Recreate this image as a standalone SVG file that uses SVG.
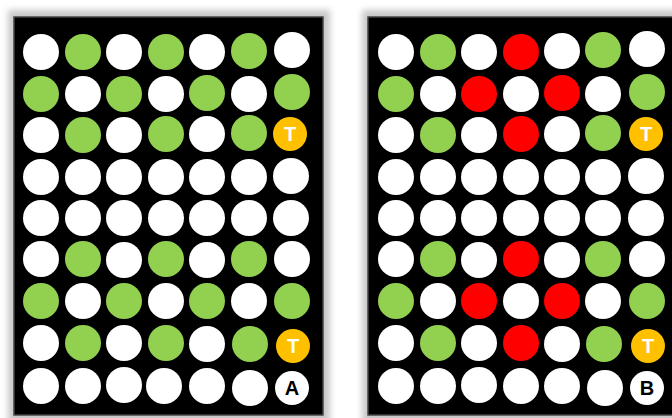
<svg xmlns="http://www.w3.org/2000/svg" width="672" height="418" viewBox="0 0 672 418">
<defs>
<filter id="sh" x="-10%" y="-10%" width="120%" height="120%"><feGaussianBlur stdDeviation="3"/></filter>
</defs>
<style>
.w{fill:#ffffff}.g{fill:#92D050}.r{fill:#FF0000}.t{fill:#FFC000}
.lt{font-family:"Liberation Sans",Arial,sans-serif;font-weight:bold;font-size:20px;text-anchor:middle}
.panel{fill:#000;stroke:#444;stroke-width:1.5}
</style>
<rect width="672" height="418" fill="#fff"/>
<rect x="8" y="10" width="322" height="420" fill="#c8c8c8" filter="url(#sh)"/>
<rect x="362" y="10" width="320" height="420" fill="#c8c8c8" filter="url(#sh)"/>
<g id="panelA">
<rect class="panel" x="14" y="17" width="309" height="398"/>
<g id="A-r1"><circle class="w" cx="41" cy="52" r="18"/><circle class="g" cx="83" cy="52" r="18"/><circle class="w" cx="124" cy="52" r="18"/><circle class="g" cx="166" cy="52" r="18"/><circle class="w" cx="207" cy="52" r="18"/><circle class="g" cx="249" cy="51" r="18"/><circle class="w" cx="292" cy="50" r="18"/></g>
<g id="A-r2"><circle class="g" cx="41" cy="94" r="18"/><circle class="w" cx="83" cy="94" r="18"/><circle class="g" cx="124" cy="94" r="18"/><circle class="w" cx="166" cy="94" r="18"/><circle class="g" cx="207" cy="93" r="18"/><circle class="w" cx="249" cy="94" r="18"/><circle class="g" cx="292" cy="92" r="18"/></g>
<g id="A-r3"><circle class="w" cx="41" cy="135" r="18"/><circle class="g" cx="83" cy="135" r="18"/><circle class="w" cx="124" cy="135" r="18"/><circle class="g" cx="166" cy="134" r="18"/><circle class="w" cx="207" cy="134" r="18"/><circle class="g" cx="249" cy="133" r="18"/><circle class="t" cx="290" cy="134" r="17"/><text class="lt" x="290" y="141" fill="#fff">T</text></g>
<g id="A-r4"><circle class="w" cx="41" cy="177" r="18"/><circle class="w" cx="83" cy="177" r="18"/><circle class="w" cx="124" cy="177" r="18"/><circle class="w" cx="166" cy="177" r="18"/><circle class="w" cx="207" cy="177" r="18"/><circle class="w" cx="249" cy="177" r="18"/><circle class="w" cx="291" cy="176" r="18"/></g>
<g id="A-r5"><circle class="w" cx="41" cy="218" r="18"/><circle class="w" cx="83" cy="218" r="18"/><circle class="w" cx="124" cy="218" r="18"/><circle class="w" cx="166" cy="218" r="18"/><circle class="w" cx="207" cy="218" r="18"/><circle class="w" cx="249" cy="218" r="18"/><circle class="w" cx="291" cy="218" r="18"/></g>
<g id="A-r6"><circle class="w" cx="41" cy="259" r="18"/><circle class="g" cx="83" cy="259" r="18"/><circle class="w" cx="124" cy="260" r="18"/><circle class="g" cx="166" cy="259" r="18"/><circle class="w" cx="207" cy="260" r="18"/><circle class="g" cx="249" cy="259" r="18"/><circle class="w" cx="292" cy="259" r="18"/></g>
<g id="A-r7"><circle class="g" cx="41" cy="301" r="18"/><circle class="w" cx="83" cy="301" r="18"/><circle class="g" cx="124" cy="301" r="18"/><circle class="w" cx="166" cy="301" r="18"/><circle class="g" cx="207" cy="301" r="18"/><circle class="w" cx="249" cy="301" r="18"/><circle class="g" cx="292" cy="301" r="18"/></g>
<g id="A-r8"><circle class="w" cx="41" cy="343" r="18"/><circle class="g" cx="83" cy="343" r="18"/><circle class="w" cx="124" cy="343" r="18"/><circle class="g" cx="166" cy="343" r="18"/><circle class="w" cx="207" cy="344" r="18"/><circle class="g" cx="250" cy="344" r="18"/><circle class="t" cx="293" cy="346" r="17"/><text class="lt" x="293" y="353" fill="#fff">T</text></g>
<g id="A-r9"><circle class="w" cx="41" cy="386" r="18"/><circle class="w" cx="83" cy="386" r="18"/><circle class="w" cx="124" cy="385" r="18"/><circle class="w" cx="164" cy="386" r="18"/><circle class="w" cx="207" cy="386" r="18"/><circle class="w" cx="250" cy="388" r="18"/><circle class="w" cx="292" cy="388" r="17"/><text class="lt" x="292" y="395" fill="#000">A</text></g>
</g>
<g id="panelB">
<rect class="panel" x="368" y="17" width="310" height="398"/>
<g id="B-r1"><circle class="w" cx="396" cy="52" r="18"/><circle class="g" cx="438" cy="52" r="18"/><circle class="w" cx="479" cy="52" r="18"/><circle class="r" cx="521" cy="52" r="18"/><circle class="w" cx="562" cy="51" r="18"/><circle class="g" cx="603" cy="50" r="18"/><circle class="w" cx="647" cy="49" r="18"/></g>
<g id="B-r2"><circle class="g" cx="396" cy="94" r="18"/><circle class="w" cx="438" cy="94" r="18"/><circle class="r" cx="479" cy="94" r="18"/><circle class="w" cx="521" cy="94" r="18"/><circle class="r" cx="562" cy="93" r="18"/><circle class="w" cx="603" cy="94" r="18"/><circle class="g" cx="647" cy="92" r="18"/></g>
<g id="B-r3"><circle class="w" cx="396" cy="135" r="18"/><circle class="g" cx="438" cy="135" r="18"/><circle class="w" cx="479" cy="135" r="18"/><circle class="r" cx="521" cy="134" r="18"/><circle class="w" cx="562" cy="134" r="18"/><circle class="g" cx="603" cy="133" r="18"/><circle class="t" cx="646" cy="134" r="17"/><text class="lt" x="646" y="141" fill="#fff">T</text></g>
<g id="B-r4"><circle class="w" cx="396" cy="177" r="18"/><circle class="w" cx="438" cy="177" r="18"/><circle class="w" cx="479" cy="177" r="18"/><circle class="w" cx="521" cy="177" r="18"/><circle class="w" cx="562" cy="177" r="18"/><circle class="w" cx="603" cy="177" r="18"/><circle class="w" cx="646" cy="176" r="18"/></g>
<g id="B-r5"><circle class="w" cx="396" cy="218" r="18"/><circle class="w" cx="438" cy="218" r="18"/><circle class="w" cx="479" cy="218" r="18"/><circle class="w" cx="521" cy="218" r="18"/><circle class="w" cx="562" cy="218" r="18"/><circle class="w" cx="603" cy="218" r="18"/><circle class="w" cx="646" cy="218" r="18"/></g>
<g id="B-r6"><circle class="w" cx="396" cy="259" r="18"/><circle class="g" cx="438" cy="259" r="18"/><circle class="w" cx="479" cy="260" r="18"/><circle class="r" cx="521" cy="259" r="18"/><circle class="w" cx="562" cy="260" r="18"/><circle class="g" cx="603" cy="259" r="18"/><circle class="w" cx="647" cy="259" r="18"/></g>
<g id="B-r7"><circle class="g" cx="396" cy="301" r="18"/><circle class="w" cx="438" cy="301" r="18"/><circle class="r" cx="479" cy="301" r="18"/><circle class="w" cx="521" cy="301" r="18"/><circle class="r" cx="562" cy="301" r="18"/><circle class="w" cx="603" cy="301" r="18"/><circle class="g" cx="647" cy="301" r="18"/></g>
<g id="B-r8"><circle class="w" cx="396" cy="343" r="18"/><circle class="g" cx="438" cy="343" r="18"/><circle class="w" cx="479" cy="343" r="18"/><circle class="r" cx="521" cy="343" r="18"/><circle class="w" cx="562" cy="344" r="18"/><circle class="g" cx="604" cy="344" r="18"/><circle class="t" cx="648" cy="346" r="17"/><text class="lt" x="648" y="353" fill="#fff">T</text></g>
<g id="B-r9"><circle class="w" cx="396" cy="386" r="18"/><circle class="w" cx="438" cy="386" r="18"/><circle class="w" cx="479" cy="385" r="18"/><circle class="w" cx="521" cy="386" r="18"/><circle class="w" cx="562" cy="386" r="18"/><circle class="w" cx="605" cy="388" r="18"/><circle class="w" cx="647" cy="388" r="17"/><text class="lt" x="647" y="395" fill="#000">B</text></g>
</g>
</svg>
